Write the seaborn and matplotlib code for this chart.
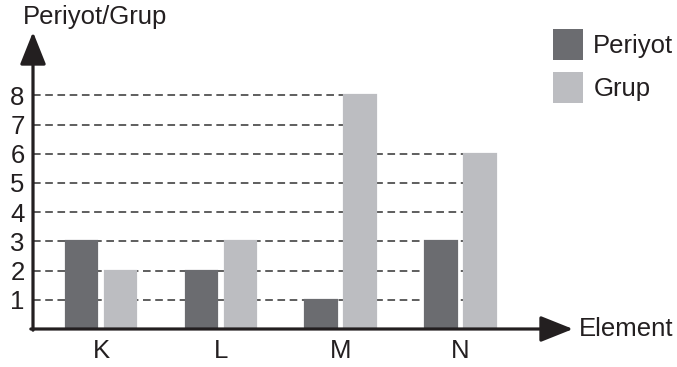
import numpy as np
import pandas as pd
import matplotlib
matplotlib.use("Agg")
import matplotlib.pyplot as plt
import seaborn as sns

# data
elements = ['K', 'L', 'M', 'N']
periyot = [3, 2, 1, 3]
grup = [2, 3, 8, 6]
series_names = ['Periyot', 'Grup']
y_ticks = [1, 2, 3, 4, 5, 6, 7, 8]

df = pd.DataFrame({
    'Element': elements * 2,
    'value': periyot + grup,
    'series': [series_names[0]] * len(elements) + [series_names[1]] * len(elements),
})

sns.set_style('white')
plt.rcParams['font.family'] = ['Liberation Sans', 'DejaVu Sans']
ink = '#231f20'
fs = 18.5

fig = plt.figure(figsize=(6.77, 3.67), dpi=100)
W, H = 677, 367
ax = fig.add_axes([33 / W, (H - 329) / H, 540 / W, 297 / H])

sns.barplot(data=df, x='Element', y='value', hue='series',
            palette=['#6b6c70', '#bcbdc1'], width=0.65, gap=0.19,
            saturation=1, linewidth=0, ax=ax, zorder=2)

ax.set_xlim(-0.569, 3.94)
ax.set_ylim(0, 10.17)
for s in ax.spines.values():
    s.set_visible(False)

# dashed guide lines run from the axis to the last bar that reaches the level
bars = [p for p in ax.patches if p.get_width() > 0]
for p in bars:
    # edge in the fill colour so the bar top hides the dashed line
    p.set_edgecolor(p.get_facecolor())
    p.set_linewidth(1.6)
for lev in y_ticks:
    xs = [p.get_x() + p.get_width() / 2 for p in bars if p.get_height() >= lev]
    if xs:
        ax.hlines(lev, ax.get_xlim()[0], max(xs), colors='#333333',
                  linewidth=1.1, linestyles=(0, (5, 3)), zorder=1)

ax.set_yticks(y_ticks)
ax.set_yticklabels([str(t) for t in y_ticks], fontsize=fs, color=ink)
ax.set_xticks(range(len(elements)))
ax.set_xticklabels(elements, fontsize=fs, color=ink)
ax.tick_params(axis='both', length=0)
ax.tick_params(axis='y', pad=6)
ax.tick_params(axis='x', pad=7)
ax.set_xlabel('')
ax.set_ylabel('')

arrow = dict(arrowstyle='-|>,head_length=1.0,head_width=0.4', mutation_scale=20,
             lw=2.3, color=ink, shrinkA=0, shrinkB=0)
ax.annotate('', xy=(1, 0), xytext=(-0.004, 0), xycoords='axes fraction',
            arrowprops=arrow, annotation_clip=False)
ax.annotate('', xy=(0, 1), xytext=(0, -0.004), xycoords='axes fraction',
            arrowprops=arrow, annotation_clip=False)

fig.text(23 / W, 1 - 17 / H, 'Periyot/Grup', fontsize=fs, color=ink,
         ha='left', va='center')
fig.text(579 / W, 1 - 329 / H, 'Element', fontsize=fs, color=ink,
         ha='left', va='center')

handles, labels = ax.get_legend_handles_labels()
ax.legend(handles, labels, loc='upper left', bbox_to_anchor=(553 / W, 1 - 29 / H),
          bbox_transform=fig.transFigure, frameon=False, fontsize=fs,
          handlelength=1.17, handleheight=1.45, handletextpad=0.4,
          labelspacing=0.5, borderpad=0, borderaxespad=0, labelcolor=ink)

fig.savefig('out.png', dpi=100)
